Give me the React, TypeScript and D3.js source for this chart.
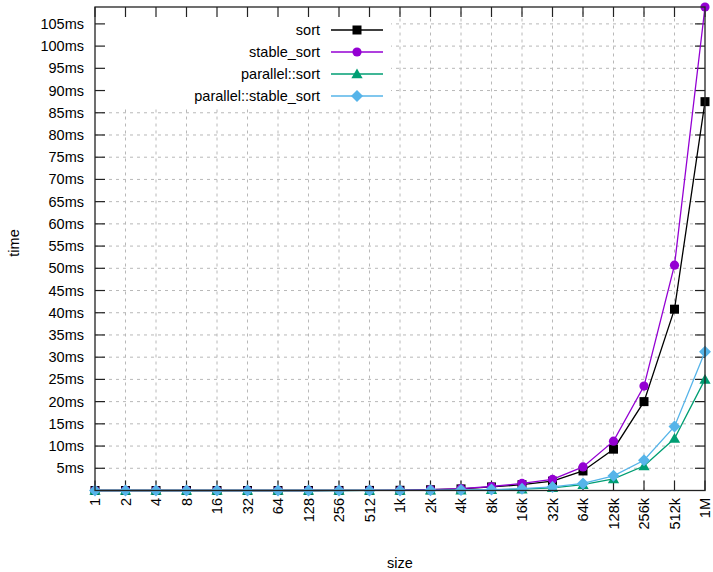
import React from "react";
import * as d3 from "d3";

const sizes = [1, 2, 4, 8, 16, 32, 64, 128, 256, 512, 1024, 2048, 4096, 8192, 16384, 32768, 65536, 131072, 262144, 524288, 1048576];
const sizeLabels = ["1", "2", "4", "8", "16", "32", "64", "128", "256", "512", "1k", "2k", "4k", "8k", "16k", "32k", "64k", "128k", "256k", "512k", "1M"];

// times in ms
const sortTimes = [0.00002, 0.00003, 0.00005, 0.0001, 0.0003, 0.0008, 0.002, 0.004, 0.009, 0.02, 0.05, 0.17, 0.36, 0.8, 1.3, 2.1, 4.4, 9.3, 20.0, 40.8, 87.5];
const stableSortTimes = [0.00002, 0.00003, 0.00006, 0.00012, 0.0003, 0.0009, 0.002, 0.005, 0.01, 0.022, 0.06, 0.2, 0.42, 0.9, 1.6, 2.5, 5.3, 11.1, 23.5, 50.7, 108.8];
const parSortTimes = [0.00002, 0.00003, 0.00005, 0.0001, 0.0002, 0.0004, 0.0008, 0.002, 0.004, 0.008, 0.02, 0.04, 0.08, 0.15, 0.3, 0.6, 1.3, 2.6, 5.5, 11.7, 25.0];
const parStableSortTimes = [0.00002, 0.00003, 0.00005, 0.0001, 0.0002, 0.0005, 0.001, 0.002, 0.005, 0.01, 0.025, 0.05, 0.09, 0.2, 0.4, 0.8, 1.6, 3.3, 6.8, 14.4, 31.2];

const yTicks = [5, 10, 15, 20, 25, 30, 35, 40, 45, 50, 55, 60, 65, 70, 75, 80, 85, 90, 95, 100, 105];

const seriesNames = ["sort", "stable_sort", "parallel::sort", "parallel::stable_sort"];
const seriesColors = ["#000000", "#9400d3", "#009e73", "#56b4e9"];
const seriesMarkers = ["square", "circle", "triangle", "diamond"];
const seriesValues = [sortTimes, stableSortTimes, parSortTimes, parStableSortTimes];

const W = 713;
const H = 572;
const L = 95;
const R = 705;
const T = 7;
const B = 490.5;
const FONT = "'Liberation Sans', Arial, sans-serif";
const FS = 14.5;

function Marker({ type, x, y, color }: { type: string; x: number; y: number; color: string }) {
  if (type === "square") return <rect x={x - 4.5} y={y - 4.5} width={9} height={9} fill={color} />;
  if (type === "circle") return <circle cx={x} cy={y} r={4.6} fill={color} />;
  if (type === "triangle") {
    const p = d3.symbol(d3.symbolTriangle, 55)();
    return <path d={p || ""} transform={`translate(${x},${y + 1})`} fill={color} />;
  }
  return <path d={`M${x},${y - 6}L${x + 6},${y}L${x},${y + 6}L${x - 6},${y}Z`} fill={color} />;
}

export default function App() {
  const x = d3.scaleLog().base(2).domain([1, 1048576]).range([L, R]);
  const y = d3.scaleLinear().domain([0, 108.8]).range([B, T]);
  const line = d3
    .line<number>()
    .x((_, i) => x(sizes[i]))
    .y((d) => y(d));

  const legendX = 320;
  const legendY0 = 30;
  const legendDy = 22;

  return (
    <svg width={W} height={H} style={{ position: "absolute", left: 0, top: 0, background: "#fff" }} fontFamily={FONT} fontSize={FS}>
      <rect x={0} y={0} width={W} height={H} fill="#fff" />
      {/* grid */}
      <g stroke="#b8b8b8" strokeWidth={1} strokeDasharray="3,4">
        {yTicks.map((t) => (
          <line key={"gy" + t} x1={L} x2={R} y1={y(t)} y2={y(t)} />
        ))}
        {sizes.slice(1, -1).map((s) => (
          <line key={"gx" + s} x1={x(s)} x2={x(s)} y1={B} y2={T} />
        ))}
      </g>
      {/* opaque key box */}
      <rect x={L} y={T} width={391 - L} height={108 - T} fill="#fff" />
      {/* ticks */}
      <g stroke="#222" strokeWidth={1.2}>
        {yTicks.map((t) => (
          <g key={"ty" + t}>
            <line x1={L} x2={L + 10} y1={y(t)} y2={y(t)} />
            <line x1={R} x2={R - 10} y1={y(t)} y2={y(t)} />
          </g>
        ))}
        {sizes.map((s) => (
          <g key={"tx" + s}>
            <line x1={x(s)} x2={x(s)} y1={B} y2={B - 10} />
            <line x1={x(s)} x2={x(s)} y1={T} y2={T + 10} />
          </g>
        ))}
      </g>
      {/* y tick labels */}
      {yTicks.map((t) => (
        <text key={"ly" + t} x={84} y={y(t)} dy="0.35em" textAnchor="end" fill="#000">
          {t}ms
        </text>
      ))}
      {/* x tick labels */}
      {sizes.map((s, i) => (
        <text
          key={"lx" + s}
          transform={`translate(${x(s)},${498}) rotate(-90)`}
          dy="0.35em"
          textAnchor="end"
          fill="#000"
        >
          {sizeLabels[i]}
        </text>
      ))}
      {/* axis titles */}
      <text x={400} y={568} textAnchor="middle" fill="#000">size</text>
      <text transform={`translate(14,243) rotate(-90)`} dy="0.35em" textAnchor="middle" fill="#000">time</text>
      {/* series */}
      {seriesValues.map((vals, si) => (
        <g key={"s" + si}>
          <path d={line(vals) || ""} fill="none" stroke={seriesColors[si]} strokeWidth={1.3} />
          {vals.map((v, i) => (
            <Marker key={i} type={seriesMarkers[si]} x={x(sizes[i])} y={y(v)} color={seriesColors[si]} />
          ))}
        </g>
      ))}
      {/* legend */}
      {seriesNames.map((n, i) => {
        const ly = legendY0 + i * legendDy;
        return (
          <g key={"lg" + i}>
            <text x={legendX} y={ly} dy="0.35em" textAnchor="end" fill="#000">{n}</text>
            <line x1={331} x2={383} y1={ly} y2={ly} stroke={seriesColors[i]} strokeWidth={1.3} />
            <Marker type={seriesMarkers[i]} x={357} y={ly} color={seriesColors[i]} />
          </g>
        );
      })}
      {/* border */}
      <rect x={L} y={T} width={R - L} height={B - T} fill="none" stroke="#222" strokeWidth={1.3} />
    </svg>
  );
}
